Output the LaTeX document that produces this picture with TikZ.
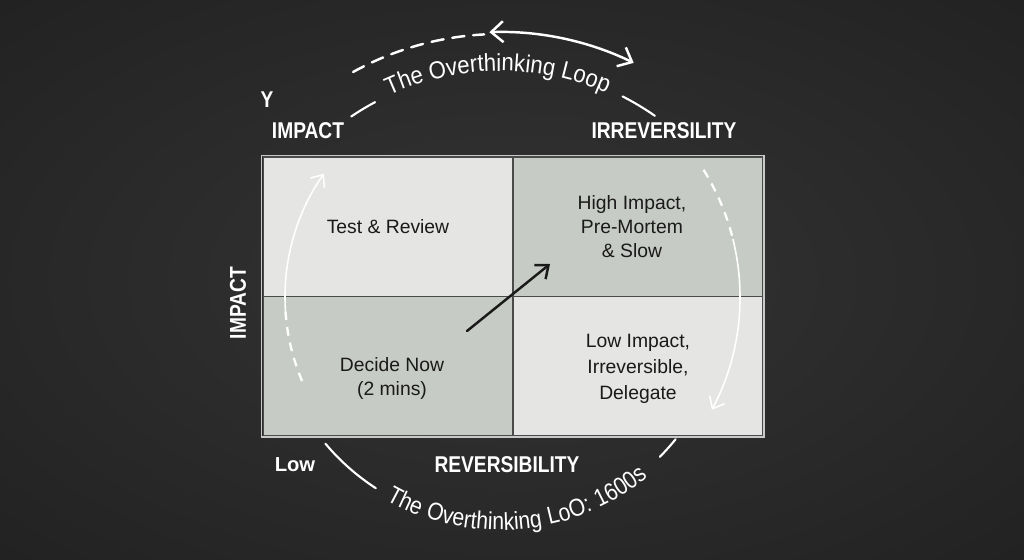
\documentclass[tikz,border=0pt]{standalone}
\usepackage{fontspec}
\setmainfont{Liberation Sans}
\newfontfamily\capsfont[FakeStretch=0.84]{Liberation Sans}
\newfontfamily\arcfont[FakeStretch=0.9]{Liberation Sans}
\newfontfamily\arcfontwide[FakeStretch=0.86, LetterSpace=4]{Liberation Sans}
\usepackage{tikz}
\usetikzlibrary{positioning, arrows.meta, calc, decorations.text}
\definecolor{bgin}{HTML}{2E2E2E}
\definecolor{bgout}{HTML}{0F0F0F}
\definecolor{paleq}{HTML}{E5E5E3}
\definecolor{sageq}{HTML}{C7CBC5}
\definecolor{gridln}{HTML}{4A4A4A}
\definecolor{framec}{HTML}{C9C9C9}
\definecolor{ink}{HTML}{1A1A1A}
\pgfdeclareradialshading{bgglow}{\pgfpoint{0bp}{0bp}}{color(0bp)=(bgin); color(12bp)=(bgin); color(72bp)=(bgout)}
\newcommand{\looptext}{\arcfont\fontsize{14}{16}\selectfont}
\newcommand{\looptextlow}{\arcfontwide\fontsize{14}{16}\selectfont}
\tikzset{
  quad/.style={draw=gridln, line width=0.6pt, minimum width=5cm, minimum height=2.79cm,
               inner sep=0pt, outer sep=0pt},
  quadtext/.style={align=center, text=ink, font=\fontsize{11}{13.8}\selectfont},
  axislab/.style={text=white, inner sep=1pt, font=\capsfont\bfseries\fontsize{13}{15}\selectfont},
  looparr/.style={white, line width=1.4pt, line cap=round},
  looplin/.style={white, line width=1.2pt, line cap=round},
  innerarr/.style={white, line width=0.9pt, -{Straight Barb[length=2mm, width=3.4mm]}},
  innerdash/.style={white, line width=1.3pt, dash pattern=on 5pt off 4pt},
  loopword/.style={decorate, decoration={text along path, text align=center, text color=white}},
}
\begin{document}
\begin{tikzpicture}[x=0.02cm, y=0.02cm]
  % backdrop
  \shade[shading=bgglow] (0,0) rectangle (1024,559);
  \useasboundingbox (0,0) rectangle (1024,559);
  \coordinate (hub) at (500,222);
  \coordinate (core) at (500,262);

  % quadrants
  \node[quad, fill=paleq] (tl) at (388,332.25) {};
  \node[quad, fill=sageq, right=0pt of tl] (tr) {};
  \node[quad, fill=sageq, below=0pt of tl] (bl) {};
  \node[quad, fill=paleq, right=0pt of bl] (br) {};
  \draw[framec, line width=1.1pt] ($(tl.north west)+(-1.5,1.5)$)
        rectangle ($(br.south east)+(1.5,-1.5)$);

  \node[quadtext] (tltxt) at (tl.center) {Test \& Review};
  \node[quadtext, xshift=-0.12cm] (trtxt) at (tr.center)
    {High Impact,\\Pre-Mortem\\\& Slow};
  \node[quadtext, xshift=0.08cm, yshift=-0.24cm] (bltxt) at (bl.center)
    {Decide Now\\(2 mins)};
  \node[quadtext, yshift=-0.06cm] (brtxt) at (br.center)
    {Low Impact,\\[1pt]Irreversible,\\[1pt]Delegate};

  \coordinate (nudge) at (467,228);
  \coordinate (nudgetip) at (550,295);
  \draw[ink, line width=1.4pt, line cap=round,
        -{Straight Barb[length=2.2mm, width=3.6mm]}] (nudge) -- (nudgetip);

  % axis words
  \node[axislab] (ylab) at (267,459) {Y};
  \node[axislab] (imptop) at (308,428) {IMPACT};
  \node[axislab] (irrev) at (664,428) {IRREVERSILITY};
  \node[axislab, rotate=90] (impside) at (238,256) {IMPACT};
  \node[axislab, font=\bfseries\fontsize{11.5}{14}\selectfont] (low) at (295,94) {Low};
  \node[axislab] (revers) at (507,94) {REVERSIBILITY};

  % upper loop
  \draw[looparr, dash pattern=on 7pt off 5pt] ($(hub)+(119:303)$)
        arc[start angle=119, end angle=93, radius=303];
  \draw[looparr, {Straight Barb[length=2.4mm, width=4.2mm]}-{Straight Barb[length=2.4mm, width=4.2mm]}]
        ($(hub)+(92:305)$) arc[start angle=92, end angle=64, radius=305];
  \draw[looplin] ($(hub)+(124:266)$) arc[start angle=124, end angle=118, radius=266];
  \path[loopword, decoration={text={|\looptext|The Overthinking Loop}}]
        ($(hub)+(120:266)$) arc[start angle=120, end angle=61, radius=266];
  \draw[looplin] ($(hub)+(63:270)$) arc[start angle=63, end angle=55, radius=270];

  % lower loop
  \draw[looplin] ($(core)+(220:228)$) arc[start angle=220, end angle=237, radius=228];
  \path[loopword, decoration={text={|\looptextlow|The Overthinking LoO: 1600s}}]
        ($(core)+(234:233)$) arc[start angle=234, end angle=316, radius=233];
  \draw[looplin] ($(core)+(315:226)$) arc[start angle=315, end angle=321, radius=226];

  % arrows inside the grid
  \draw[innerdash] ($(core)+(203:215)$) arc[start angle=203, end angle=184, radius=215];
  \draw[innerarr] ($(core)+(184:215)$) arc[start angle=184, end angle=145, radius=215];
  \draw[innerdash] ($(core)+(32:240)$) arc[start angle=32, end angle=14, radius=240];
  \draw[innerarr] ($(core)+(14:240)$) arc[start angle=14, end angle=-28, radius=240];
\end{tikzpicture}
\end{document}
